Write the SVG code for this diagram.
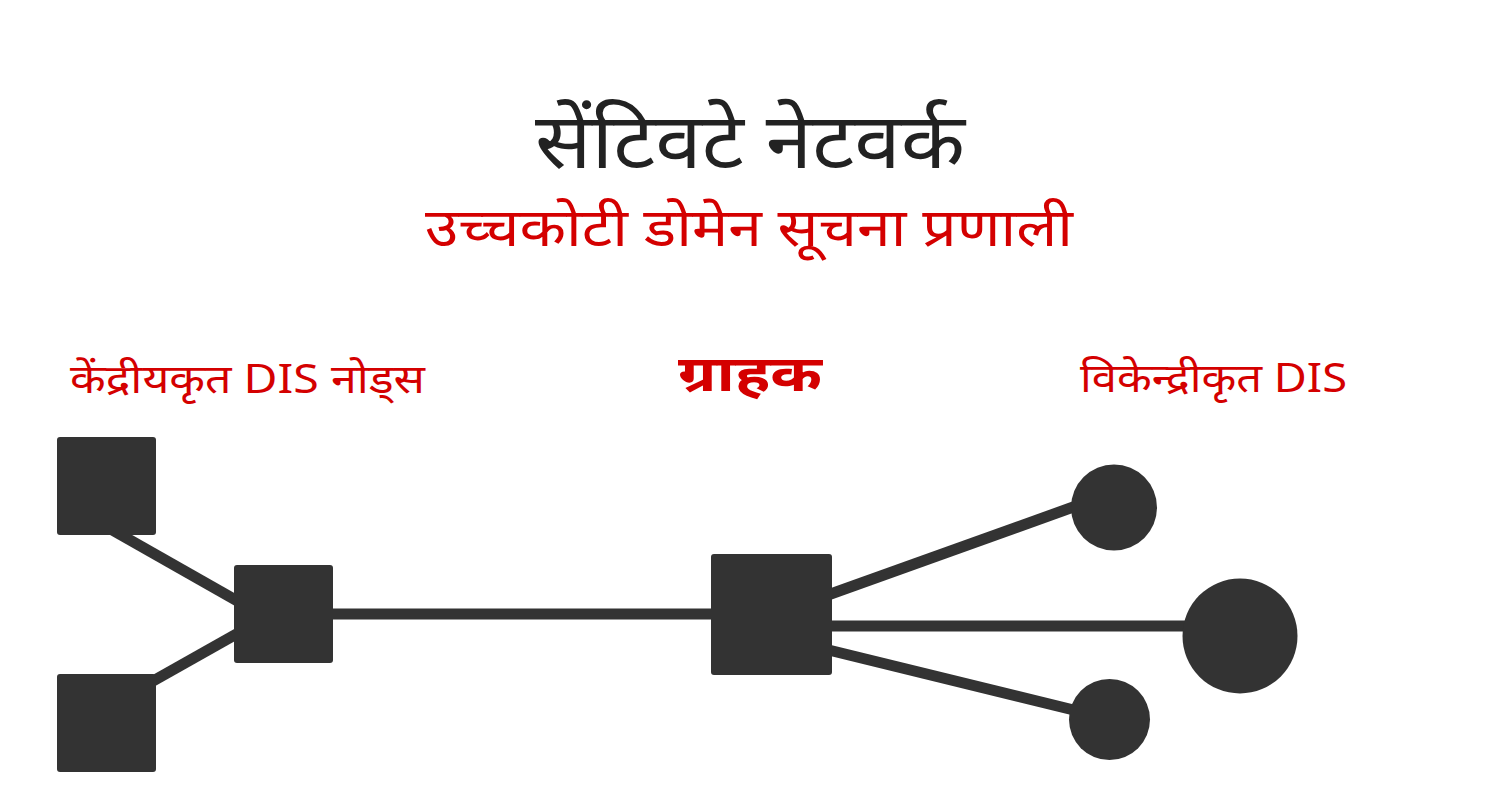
<svg xmlns="http://www.w3.org/2000/svg" width="1500" height="811" viewBox="0 0 1500 811">
  <style>
    .t { font-family: "Noto Sans Devanagari", "Noto Sans", "Lohit Devanagari", "DejaVu Sans", sans-serif; text-anchor: middle; }
    .title { font-size: 77px; fill: #222222; }
    .sub { font-size: 53px; fill: #d40000; }
    .lbl { font-size: 40px; fill: #d40000; }
    .client { font-size: 50px; font-weight: bold; fill: #d40000; }
    .node { fill: #333333; }
    .edge { stroke: #333333; stroke-width: 11; fill: none; }
  </style>
  <rect width="1500" height="811" fill="#ffffff"/>

  <g id="title">
    <text class="t title" x="750" y="168" textLength="430" lengthAdjust="spacingAndGlyphs">सेंटिवटे नेटवर्क</text>
    <text class="t sub" x="749" y="246" textLength="648" lengthAdjust="spacingAndGlyphs">उच्चकोटी डोमेन सूचना प्रणाली</text>
  </g>

  <g id="labels">
    <text id="label-centralized" class="t lbl" x="247.5" y="393" textLength="355" lengthAdjust="spacingAndGlyphs">केंद्रीयकृत DIS नोड्स</text>
    <text id="label-client" class="t client" x="750" y="391" textLength="144" lengthAdjust="spacingAndGlyphs">ग्राहक</text>
    <text id="label-decentralized" class="t lbl" x="1213.5" y="392" textLength="267" lengthAdjust="spacingAndGlyphs">विकेन्द्रीकृत DIS</text>
  </g>

  <g id="connectors">
    <line class="edge" x1="100" y1="523" x2="240" y2="602.5"/>
    <line class="edge" x1="130" y1="694" x2="240" y2="632"/>
    <line class="edge" x1="300" y1="614" x2="740" y2="614"/>
    <line class="edge" x1="800" y1="605" x2="1090" y2="501"/>
    <line class="edge" x1="800" y1="626" x2="1220" y2="626"/>
    <line class="edge" x1="800" y1="643" x2="1090" y2="714"/>
  </g>

  <g id="node-a"><rect class="node" x="57" y="437" width="99" height="98" rx="3"/></g>
  <g id="node-b"><rect class="node" x="57" y="674" width="99" height="98" rx="3"/></g>
  <g id="node-c"><rect class="node" x="234" y="565" width="99" height="98" rx="3"/></g>
  <g id="node-client"><rect class="node" x="711" y="554" width="121" height="121" rx="3"/></g>
  <g id="node-d1"><circle class="node" cx="1114" cy="507.5" r="43"/></g>
  <g id="node-d2"><circle class="node" cx="1240" cy="636" r="57.5"/></g>
  <g id="node-d3"><circle class="node" cx="1109.5" cy="719.5" r="40.5"/></g>
</svg>
